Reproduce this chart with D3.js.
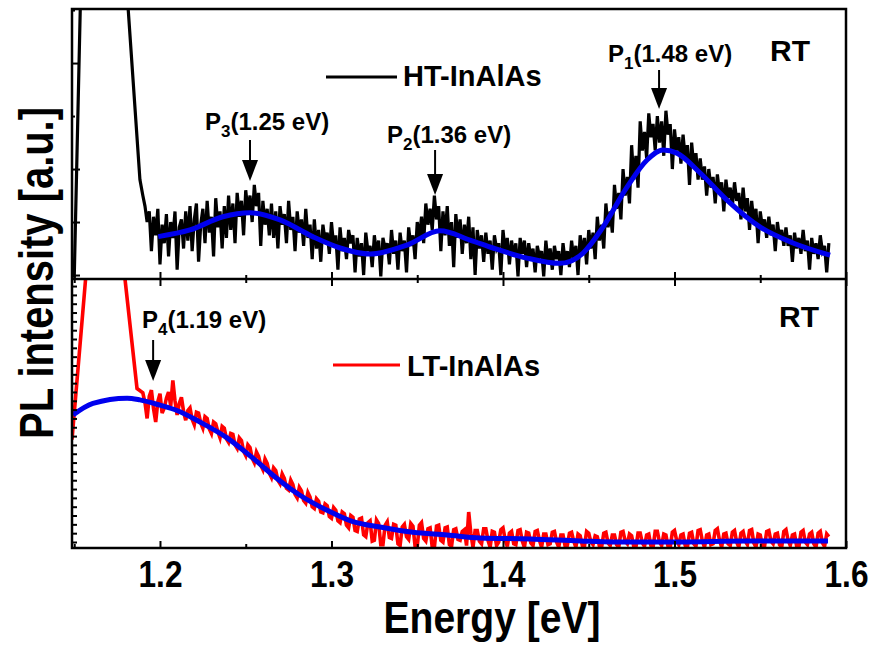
<!DOCTYPE html>
<html>
<head>
<meta charset="utf-8">
<script src="https://cdn.jsdelivr.net/npm/d3@7"></script>
<style>
body { margin: 0; background: #fff; }
svg { display: block; }
text { font-family: "Liberation Sans", Arial, sans-serif; font-weight: bold; fill: #000; }
</style>
</head>
<body>
<svg id="chart" width="873" height="648"></svg>
<script>
// energy axis
const xTicks = [1.2, 1.3, 1.4, 1.5, 1.6]
const xMinor = [1.15, 1.25, 1.35, 1.45, 1.55]

// sampled spectra: start energy and step of the spectrometer grid
const noiseStart = 1.19
const noiseStep = 0.00125

// HT-InAlAs (top), laser tail at the left edge, then the measured trace
const htHeadE = [1.1500, 1.1535, 1.1600, 1.1750, 1.1815, 1.1883]
const htHeadI = [-1, 100, 170, 170, 100, 36]
const htNoise = [
    30, 26, 20, 24, 9, 22, 15, 25, 4, 19, 12, 23, 7, 20, 14, 24, 2, 18, 21, 10,
    24, 13, 26, 9, 21, 27, 5, 19, 25, 12, 28, 16, 22, 7, 29, 18, 24, 10, 26, 14,
    30, 17, 27, 12, 31, 22, 28, 15, 32, 24, 30, 20, 34, 26, 31, 11, 28, 19, 25, 15,
    27, 14, 24, 10, 26, 19, 23, 12, 28, 17, 22, 9, 24, 16, 21, 11, 25, 14, 19, 6,
    21, 10, 17, 5, 19, 13, 16, 8, 20, 11, 15, 2, 18, 9, 14, 6, 17, 12, 15, 1,
    14, 7, 12, 0, 16, 9, 11, 3, 15, 8, 13, -0.5, 14, 10, 12, 4, 17, 8, 13, 2,
    16, 9, 13, 1, 18, 11, 15, 6, 20, 14, 22, 12, 27, 19, 25, 17, 30, 21, 26, 9,
    24, 15, 26, 11, 20, 3, 23, 14, 21, 8, 19, 12, 22, 6, 18, 0, 17, 10, 15, 5,
    16, 8, 13, 2, 15, 10, 12, 0, 17, 9, 14, 4, 13, 7, 12, -0.5, 14, 8, 13, 3,
    12, 6, 10, 1, 11, 7, 9, -0.5, 13, 5, 10, 2, 11, 6, 9, 0, 12, 5, 9, 3,
    13, 6, 11, 0, 15, 8, 14, 4, 17, 10, 16, 6, 22, 13, 19, 10, 27, 18, 24, 16,
    34, 25, 31, 21, 40, 30, 37, 27, 49, 36, 45, 33, 58, 47, 54, 44, 61, 52, 57, 47,
    60, 50, 58, 45, 62, 53, 57, 40, 55, 47, 52, 42, 53, 44, 49, 34, 50, 41, 46, 36,
    44, 36, 41, 30, 40, 33, 37, 27, 38, 31, 35, 24, 36, 29, 33, 26, 35, 28, 31, 21,
    33, 24, 29, 17, 28, 20, 25, 12, 24, 18, 21, 14, 22, 15, 19, 9, 20, 14, 17, 11,
    18, 11, 15, 5, 16, 10, 14, 8, 17, 9, 13, 2, 14, 8, 12, 6, 15, 9, 11, 1,
    12
]
const htFitE = [1.199, 1.2175, 1.2367, 1.2525, 1.270, 1.289, 1.305, 1.3225, 1.344, 1.3633, 1.3808, 1.3942, 1.414,
    1.4333, 1.4467, 1.4583, 1.4723, 1.484, 1.4933, 1.5014, 1.515, 1.5306, 1.55, 1.5691, 1.5907]
const htFitI = [14.5, 17.0, 22.0, 23.5, 20.8, 14.5, 10.2, 7.9, 11.3, 16.7, 13.2, 10.2, 6.4,
    4.4, 8.3, 18.1, 33.2, 43.4, 47.2, 46.0, 38.5, 28.3, 18.1, 12.1, 7.5]
const topTicks = [0, 20, 40, 60, 80, 100]

// LT-InAlAs (bottom)
const ltHeadE = [1.1487, 1.1565, 1.1600, 1.1760, 1.1796, 1.1866]
const ltHeadI = [11.6, 29.5, 40, 40, 29.8, 17.4]
const ltNoise = [
    16.9, 15.8, 14.0, 16.5, 17.2, 15.1, 13.6, 15.9, 16.8, 14.6, 15.2, 16.3, 17.0, 15.4, 18.3, 16.0, 14.4, 15.7, 16.4, 14.8,
    13.8, 14.9, 15.2, 13.9, 13.3, 14.7, 14.6, 13.5, 12.9, 14.2, 14.0, 12.8, 12.3, 13.6, 13.4, 12.5, 11.8, 13.1, 12.9, 11.7,
    11.3, 12.3, 12.2, 11.0, 10.6, 11.8, 11.5, 10.3, 9.8, 11.0, 10.7, 9.5, 9.0, 10.2, 9.7, 8.7, 8.2, 9.4, 8.9, 7.8,
    7.3, 8.4, 8.1, 7.0, 6.6, 7.7, 7.2, 6.1, 5.9, 7.0, 6.5, 5.4, 5.0, 6.2, 5.8, 4.7, 4.4, 5.6, 5.1, 4.0,
    3.8, 4.9, 4.6, 3.4, 3.3, 4.3, 4.1, 2.9, 2.7, 3.9, 3.6, 2.4, 2.2, 3.4, 3.2, 1.9, 1.6, 3.0, 2.8, 1.3,
    1.2, 2.6, 2.7, 0.8, 0.6, 2.2, 2.4, 0.1, 0.2, 2.5, 2.1, -0.3, -0.3, 1.9, 2.3, 0.5, 0.4, 2.0, 1.9, -0.2,
    -0.4, 1.7, 2.0, 0.6, 0.3, 2.1, 1.8, -0.5, -0.5, 1.9, 2.2, 0.4, 0.1, 1.5, 1.6, -0.6, -0.6, 1.8, 1.9, 0.2,
    0.0, 1.6, 1.7, -0.3, -0.5, 1.4, 1.5, 0.3, 0.2, 1.2, 1.4, -0.4, 3.4, 1.0, -0.6, 1.3, 1.3, 0.1, -0.2, 1.5,
    1.5, 0.2, -0.6, 1.2, 1.1, -0.4, 0.0, 1.4, 1.6, 0.3, -0.5, 1.0, 1.2, -0.2, -0.3, 1.3, 1.4, 0.1, -0.6, 1.1,
    1.0, -0.1, -0.4, 1.2, 1.3, 0.2, -0.6, 0.9, 0.9, -0.3, -0.2, 1.1, 1.2, 0.0, -0.6, 0.8, 0.8, -0.5, -0.4, 1.0,
    1.1, 0.1, -0.6, 0.9, 0.7, -0.4, -0.5, 1.2, 1.0, 0.0, -0.3, 0.7, 0.6, -0.5, -0.6, 1.0, 1.1, -0.1, -0.4, 0.8,
    0.8, -0.3, -0.6, 1.1, 1.2, 0.1, -0.2, 0.9, 0.7, -0.5, -0.6, 1.0, 1.0, -0.1, -0.5, 0.8, 0.9, -0.4, -0.6, 1.2,
    1.2, 0.0, -0.4, 0.9, 0.8, -0.5, -0.6, 1.1, 1.3, 0.2, -0.3, 0.8, 0.9, -0.4, -0.6, 1.0, 1.1, -0.2, -0.5, 1.3,
    1.4, 0.1, -0.6, 0.8, 0.9, -0.3, -0.2, 1.3, 1.5, 0.2, -0.6, 0.9, 1.0, -0.2, -0.4, 1.1, 1.3, 0.0, -0.6, 1.0,
    1.2, 0.1, -0.3, 1.3, 1.4, -0.1, -0.6, 0.9, 0.8, -0.4, -0.5, 1.2, 1.3, 0.1, -0.2, 0.9, 1.0, -0.3, -0.6, 1.2,
    1.4, 0.2, -0.4, 0.8, 0.9, -0.5, -0.6, 1.1, 1.3, 0.0, -0.3, 0.9, 1.1, -0.2, -0.6, 1.0, 1.2, -0.1, -0.5, 0.9,
    0.6
]
const ltFitE = [1.1493, 1.1609, 1.1808, 1.1883, 1.2, 1.2099, 1.2233, 1.2391, 1.2542, 1.2682, 1.2816, 1.2974,
    1.3125, 1.3283, 1.3475, 1.3674, 1.3866, 1.4158, 1.445, 1.4642, 1.5032, 1.5423, 1.5895]
const ltFitI = [14.4, 15.7, 16.3, 16.1, 15.5, 14.9, 13.6, 11.8, 9.5, 7.2, 5.3, 3.6,
    2.3, 1.7, 1.1, 0.8, 0.45, 0.34, 0.11, 0, 0, 0.1, 0.1]
const bottomTicks = d3.range(0, 30)

// peak markers
const peakSub = ["1", "2", "3", "4"]
const peakText = ["(1.48 eV)", "(1.36 eV)", "(1.25 eV)", "(1.19 eV)"]
const peakArrowE = [1.491, 1.3604, 1.2525, 1.196]

const svg = d3.select("#chart")

const margin = { left: 72, right: 27, top: 9 }
const W = 873, mid = 279, bottom = 548

const x = d3.scaleLinear().domain([1.1487, 1.6]).range([margin.left, W - margin.right])
const yTop = d3.scaleLinear().domain([-1.5, 100.4]).range([mid, margin.top])
const yBot = d3.scaleLinear().domain([-0.68, 29.8]).range([bottom, mid])

const htE = d3.range(htNoise.length).map(i => noiseStart + i * noiseStep)
const ltE = d3.range(ltNoise.length).map(i => noiseStart + i * noiseStep)
const zip = (es, vs) => es.map((e, i) => [e, vs[i]])

// clip each panel
const defs = svg.append("defs")
defs.append("clipPath").attr("id", "clipTop").append("rect")
    .attr("x", margin.left).attr("y", margin.top).attr("width", x.range()[1] - margin.left).attr("height", mid - margin.top)
defs.append("clipPath").attr("id", "clipBot").append("rect")
    .attr("x", margin.left).attr("y", mid).attr("width", x.range()[1] - margin.left).attr("height", bottom - mid)

// top panel
const topPanel = svg.append("g").attr("clip-path", "url(#clipTop)")
const lineTop = d3.line().x(d => x(d[0])).y(d => yTop(d[1]))

topPanel.append("path")
    .datum(zip(htHeadE, htHeadI).concat(zip(htE, htNoise)))
    .attr("d", lineTop)
    .attr("fill", "none").attr("stroke", "#000").attr("stroke-width", 3.2)

topPanel.append("path")
    .datum(zip(htFitE, htFitI))
    .attr("d", d3.line().x(d => x(d[0])).y(d => yTop(d[1])).curve(d3.curveMonotoneX))
    .attr("fill", "none").attr("stroke", "#0000ee").attr("stroke-width", 5)

// bottom panel
const botPanel = svg.append("g").attr("clip-path", "url(#clipBot)")
const lineBot = d3.line().x(d => x(d[0])).y(d => yBot(d[1]))

botPanel.append("path")
    .datum(zip(ltHeadE, ltHeadI).concat(zip(ltE, ltNoise)))
    .attr("d", lineBot)
    .attr("fill", "none").attr("stroke", "#ff0000").attr("stroke-width", 3.6)

botPanel.append("path")
    .datum(zip(ltFitE, ltFitI))
    .attr("d", d3.line().x(d => x(d[0])).y(d => yBot(d[1])).curve(d3.curveMonotoneX))
    .attr("fill", "none").attr("stroke", "#0000ee").attr("stroke-width", 5)

// axes
function noLabels(g) {
    g.selectAll("text").remove()
    g.select(".domain").remove()
    g.selectAll("line").attr("stroke-width", 2)
}

svg.append("g").attr("transform", `translate(0,${bottom})`)
    .call(d3.axisBottom(x).tickValues(xTicks).tickSize(-7).tickPadding(13).tickFormat(d3.format(".1f")))
    .call(g => g.select(".domain").remove())
    .call(g => g.selectAll("line").attr("stroke-width", 2))
    .call(g => g.attr("font-family", null).attr("font-size", null))
    .call(g => g.selectAll("text").attr("font-size", 36).attr("fill", "#000")
        .attr("textLength", 44).attr("lengthAdjust", "spacingAndGlyphs"))
svg.append("g").attr("transform", `translate(0,${bottom})`)
    .call(d3.axisBottom(x).tickValues(xMinor).tickSize(-4)).call(noLabels)

svg.append("g").attr("transform", `translate(0,${mid})`)
    .call(d3.axisBottom(x).tickValues(xTicks).tickSize(-7)).call(noLabels)
svg.append("g").attr("transform", `translate(0,${mid})`)
    .call(d3.axisBottom(x).tickValues(xMinor).tickSize(-4)).call(noLabels)
svg.append("g").attr("transform", `translate(0,${mid})`)
    .call(d3.axisTop(x).tickValues(xTicks).tickSize(-7)).call(noLabels)
svg.append("g").attr("transform", `translate(0,${mid})`)
    .call(d3.axisTop(x).tickValues(xMinor).tickSize(-4)).call(noLabels)

svg.append("g").attr("transform", `translate(${margin.left},0)`)
    .call(d3.axisLeft(yTop).tickValues(topTicks).tickSize(-8)).call(noLabels)
    .call(g => g.selectAll(".tick line").filter(d => d === 60 || d === 100).attr("x2", 3))
svg.append("g").attr("transform", `translate(${margin.left},0)`)
    .call(d3.axisLeft(yBot).tickValues(bottomTicks).tickSize(-5)).call(noLabels)

// frames
svg.append("rect")
    .attr("x", margin.left).attr("y", margin.top)
    .attr("width", x.range()[1] - margin.left).attr("height", bottom - margin.top)
    .attr("fill", "none").attr("stroke", "#000").attr("stroke-width", 2.5)
svg.append("line")
    .attr("x1", margin.left).attr("x2", x.range()[1]).attr("y1", mid).attr("y2", mid)
    .attr("stroke", "#000").attr("stroke-width", 2.5)

// axis titles (condensed like the original narrow face)
svg.append("text")
    .attr("x", 492).attr("y", 633).attr("text-anchor", "middle").attr("font-size", 44)
    .attr("textLength", 217).attr("lengthAdjust", "spacingAndGlyphs")
    .text("Energy [eV]")
svg.append("text")
    .attr("transform", "translate(53,273) rotate(-90)").attr("text-anchor", "middle").attr("font-size", 48)
    .attr("textLength", 332).attr("lengthAdjust", "spacingAndGlyphs")
    .text("PL intensity [a.u.]")

// legends and RT labels
svg.append("line").attr("x1", 326).attr("x2", 397).attr("y1", 77).attr("y2", 77)
    .attr("stroke", "#000").attr("stroke-width", 3)
svg.append("text").attr("x", 403).attr("y", 86).attr("font-size", 29).text("HT-InAlAs")
svg.append("line").attr("x1", 333).attr("x2", 400).attr("y1", 365).attr("y2", 365)
    .attr("stroke", "#ff0000").attr("stroke-width", 3)
svg.append("text").attr("x", 407).attr("y", 376).attr("font-size", 29).text("LT-InAlAs")

svg.append("text").attr("x", 770).attr("y", 61).attr("font-size", 30).text("RT")
svg.append("text").attr("x", 779).attr("y", 327).attr("font-size", 30).text("RT")

// peak markers: [label x, baseline, arrow start, arrow tip]
const markerPos = [[608, 62, 70, 109], [387, 143, 150, 195], [205, 130, 140, 181], [142, 328, 340, 381]]

peakSub.forEach((s, i) => {
    const [tx, ty, a0, a1] = markerPos[i]
    const ax = x(peakArrowE[i])
    const t = svg.append("text").attr("x", tx).attr("y", ty).attr("font-size", 24)
    t.append("tspan").text("P")
    t.append("tspan").attr("font-size", 17).attr("dy", 7).text(s)
    t.append("tspan").attr("dy", -7).text(peakText[i])

    svg.append("line").attr("x1", ax).attr("x2", ax).attr("y1", a0).attr("y2", a1 - 14)
        .attr("stroke", "#000").attr("stroke-width", 2)
    svg.append("path")
        .attr("d", `M${ax - 8},${a1 - 21}L${ax + 8},${a1 - 21}L${ax},${a1}Z`)
        .attr("fill", "#000")
})
</script>
</body>
</html>
